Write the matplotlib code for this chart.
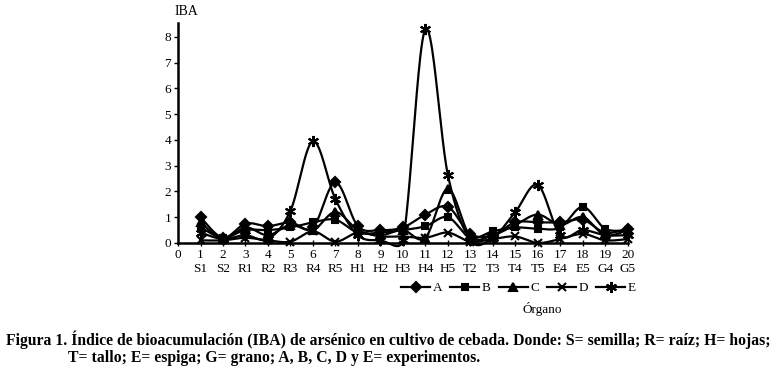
import numpy as np
import matplotlib
matplotlib.use("Agg")
import matplotlib.pyplot as plt
from matplotlib.lines import Line2D

plt.rcParams['font.family'] = ['Liberation Serif', 'DejaVu Serif']

# data
x_pos = np.arange(1, 21)
organos = ['S1', 'S2', 'R1', 'R2', 'R3', 'R4', 'R5', 'H1', 'H2', 'H3',
           'H4', 'H5', 'T2', 'T3', 'T4', 'T5', 'E4', 'E5', 'G4', 'G5']
A = [1.0, 0.2, 0.75, 0.65, 0.8, 0.6, 2.35, 0.65, 0.5, 0.6,
     1.1, 1.4, 0.35, 0.3, 0.8, 0.8, 0.8, 0.9, 0.4, 0.55]
B = [0.6, 0.2, 0.5, 0.5, 0.6, 0.8, 0.9, 0.4, 0.4, 0.5,
     0.65, 1.0, 0.2, 0.45, 0.6, 0.55, 0.6, 1.4, 0.55, 0.5]
C = [0.8, 0.15, 0.6, 0.3, 0.7, 0.5, 1.2, 0.5, 0.3, 0.5,
     0.2, 2.1, 0.25, 0.3, 0.7, 1.1, 0.7, 1.0, 0.3, 0.5]
D = [0.1, 0.1, 0.2, 0.1, 0.05, 0.45, 0.05, 0.4, 0.25, 0.25,
     0.2, 0.4, 0.05, 0.15, 0.25, 0.0, 0.15, 0.35, 0.1, 0.15]
E = [0.4, 0.15, 0.3, 0.15, 1.25, 3.95, 1.7, 0.3, 0.1, 0.1,
     8.3, 2.65, 0.1, 0.2, 1.2, 2.25, 0.3, 0.5, 0.3, 0.3]

series = [('A', A, 'D', 5), ('B', B, 's', 5), ('C', C, '^', 6),
          ('D', D, 'x', 6), ('E', E, (6, 2, 0), 8)]


def clamp(v, lim):
    n = np.hypot(v[0], v[1])
    if n > lim and n > 0:
        v = v * lim / n
    return v


def smooth(x, y, n=40):
    # excel-like smoothed line (cubic bezier through the points)
    x = np.asarray(x, float)
    y = np.asarray(y, float)
    px = np.concatenate([[x[0]], x, [x[-1]]])
    py = np.concatenate([[y[0]], y, [y[-1]]])
    xs, ys = [], []
    t = np.linspace(0, 1, n)
    for i in range(1, len(px) - 2):
        p0 = np.array([px[i - 1], py[i - 1]])
        p1 = np.array([px[i], py[i]])
        p2 = np.array([px[i + 1], py[i + 1]])
        p3 = np.array([px[i + 2], py[i + 2]])
        chord = np.hypot(*(p2 - p1))
        b1 = p1 + clamp((p2 - p0) / 6, chord / 2)
        b2 = p2 - clamp((p3 - p1) / 6, chord / 2)
        pts = (np.outer((1 - t) ** 3, p1) + np.outer(3 * (1 - t) ** 2 * t, b1)
               + np.outer(3 * (1 - t) * t ** 2, b2) + np.outer(t ** 3, p2))
        xs.append(pts[:, 0])
        ys.append(pts[:, 1])
    return np.concatenate(xs), np.concatenate(ys)


fig = plt.figure(figsize=(7.74, 3.72), dpi=100)
ax = fig.add_axes([0.230, 0.347, 0.581, 0.591])

handles = []
for name, vals, mk, ms in series:
    sx, sy = smooth(x_pos, vals)
    ax.plot(sx, sy, color='black', lw=1.6, clip_on=False)
    ax.plot(x_pos, vals, ls='none', marker=mk, ms=ms, color='black',
            mew=1.5, clip_on=False)
    handles.append(Line2D([], [], color='black', lw=1.6, marker=mk, ms=ms,
                          mew=1.5, label=name))

ax.set_xlim(0, 20)
ax.set_ylim(0, 8.54)
ax.set_xticks(range(0, 21))
ax.set_xticklabels([str(i) for i in range(0, 21)], fontsize=9.5)
ax.set_yticks(range(0, 9))
ax.tick_params(axis='y', labelsize=9.5, direction='out', length=3, width=1, pad=2)
ax.tick_params(axis='x', direction='inout', length=5, width=1, pad=2)
for s in ['top', 'right']:
    ax.spines[s].set_visible(False)
ax.spines['left'].set_linewidth(1.8)
ax.spines['bottom'].set_linewidth(1.8)

for xi, lab in zip(x_pos, organos):
    ax.text(xi, -0.78, lab, ha='center', va='top', fontsize=9.5)

ax.text(-0.15, 8.75, 'IBA', ha='left', va='bottom', fontsize=10)

fig.legend(handles=handles, loc='center', bbox_to_anchor=(0.67, 0.225), ncol=5,
           frameon=False, fontsize=9.5, handlelength=2.2, handletextpad=0.2,
           columnspacing=0.6)
fig.text(0.70, 0.17, 'Órgano', ha='center', va='center', fontsize=9.5)

fig.text(0.008, 0.087,
         'Figura 1. Índice de bioacumulación (IBA) de arsénico en cultivo de cebada. '
         'Donde: S= semilla; R= raíz; H= hojas;',
         ha='left', va='center', fontsize=11.3, fontweight='bold')
fig.text(0.088, 0.037,
         'T= tallo; E= espiga; G= grano; A, B, C, D y E= experimentos.',
         ha='left', va='center', fontsize=11.3, fontweight='bold')

fig.savefig('out.png', dpi=100)
